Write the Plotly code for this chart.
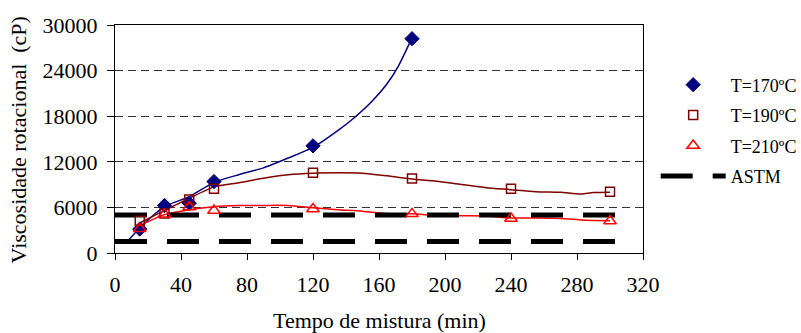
import plotly.graph_objects as go

# ---- data ----
t170_x = [15, 30, 45, 60, 120, 180]
t170_y = [3150, 6250, 6550, 9400, 14100, 28200]

t190_x = [15, 30, 45, 60, 120, 180, 240, 300]
t190_y = [4250, 5200, 7050, 8450, 10550, 9800, 8450, 8050]

t210_x = [15, 30, 45, 60, 120, 180, 240, 300]
t210_y = [3200, 5100, 6050, 5600, 5800, 5150, 4550, 4200]

# trend curves
fit170_x = [7, 15, 30, 45, 60, 75, 90, 105, 120, 135, 145, 155, 165, 172, 180]
fit170_y = [1400, 3300, 6100, 7400, 9300, 10300, 11200, 12500, 13900, 16100, 17800, 19800, 22300, 24700, 28300]

fit190_x = [15, 30, 45, 60, 75, 90, 105, 120, 135, 150, 165, 180, 195, 210, 225, 240, 255, 270, 282, 290, 300]
fit190_y = [3950, 5600, 7200, 8700, 9250, 9850, 10300, 10500, 10550, 10500, 10150, 9750, 9450, 9000, 8600, 8330, 8050, 7980, 7750, 7950, 8000]

fit210_x = [15, 30, 45, 60, 75, 90, 105, 120, 135, 150, 165, 180, 195, 210, 225, 240, 255, 270, 285, 300]
fit210_y = [3600, 5050, 5700, 6100, 6250, 6260, 6250, 5950, 5700, 5500, 5170, 5150, 4950, 4900, 4880, 4600, 4600, 4550, 4300, 4250]

astm_x = [0, 310, None, 0, 310]
astm_y = [5000, 5000, None, 1500, 1500]

x_ticks = [0, 40, 80, 120, 160, 200, 240, 280, 320]
y_ticks = [0, 6000, 12000, 18000, 24000, 30000]

NAVY = "#000080"
DRED = "#800000"
RED = "#FF0000"
FONT = "Liberation Serif"

fig = go.Figure()

# trend lines
fig.add_trace(go.Scatter(x=fit170_x, y=fit170_y, mode="lines", line=dict(color=NAVY, width=1.5, shape="spline", smoothing=0.6), showlegend=False, hoverinfo="skip"))
fig.add_trace(go.Scatter(x=fit190_x, y=fit190_y, mode="lines", line=dict(color=DRED, width=1.5, shape="spline", smoothing=0.6), showlegend=False, hoverinfo="skip"))
fig.add_trace(go.Scatter(x=fit210_x, y=fit210_y, mode="lines", line=dict(color=RED, width=1.5, shape="spline", smoothing=0.6), showlegend=False, hoverinfo="skip"))

# ASTM limits
fig.add_trace(go.Scatter(x=astm_x, y=astm_y, mode="lines", name="ASTM", legendgroup="d", legendrank=4,
                         line=dict(color="black", width=5, dash="32px,20px")))

# measured points
fig.add_trace(go.Scatter(x=t170_x, y=t170_y, mode="markers", name="T=170ºC", legendgroup="a", legendrank=1,
                         marker=dict(symbol="diamond", size=11, color=NAVY, line=dict(color=NAVY, width=1))))
fig.add_trace(go.Scatter(x=t190_x, y=t190_y, mode="markers", name="T=190ºC", legendgroup="b", legendrank=2,
                         marker=dict(symbol="square-open", size=9, color=DRED, line=dict(color=DRED, width=1.5))))
fig.add_trace(go.Scatter(x=t210_x, y=t210_y, mode="markers", name="T=210ºC", legendgroup="c", legendrank=3,
                         marker=dict(symbol="triangle-up-open", size=11, color=RED, line=dict(color=RED, width=1.5))))

fig.update_layout(
    width=801, height=333,
    margin=dict(l=115, r=158, t=25, b=80, autoexpand=False),
    paper_bgcolor="white", plot_bgcolor="white",
    font=dict(family=FONT, size=22, color="black"),
    legend=dict(x=1.024, xanchor="left", y=0.818, yanchor="top",
                font=dict(family=FONT, size=18, color="black"),
                itemwidth=65, tracegroupgap=4, traceorder="grouped",
                bgcolor="rgba(0,0,0,0)"),
    xaxis=dict(range=[0, 320], tickvals=x_ticks, ticks="outside", ticklen=6, tickcolor="black",
               tickfont=dict(family=FONT, size=22, color="black"), automargin=False,
               showline=True, linecolor="black", linewidth=1, mirror=True, showgrid=False,
               zeroline=False, ticklabelstandoff=6, fixedrange=True),
    yaxis=dict(range=[0, 30000], tickvals=y_ticks, tickformat="d", ticks="outside", ticklen=7, tickcolor="black",
               tickfont=dict(family=FONT, size=22, color="black"), automargin=False,
               showline=True, linecolor="black", linewidth=1, mirror=True, showgrid=True,
               gridcolor="#333333", gridwidth=1, griddash="8px,5px",
               zeroline=False, ticklabelstandoff=5, fixedrange=True),
    annotations=[
        dict(text="Tempo de mistura (min)", xref="paper", yref="paper", x=0.5, y=(253 - 320) / 228,
             xanchor="center", yanchor="middle", showarrow=False, font=dict(family=FONT, size=22)),
        dict(text="Viscosidade rotacional  (cP)", xref="paper", yref="paper", x=(18.5 - 115) / 528, y=0.496,
             xanchor="center", yanchor="middle", textangle=-90, showarrow=False, font=dict(family=FONT, size=22)),
    ],
)

fig.write_html("out.html")
